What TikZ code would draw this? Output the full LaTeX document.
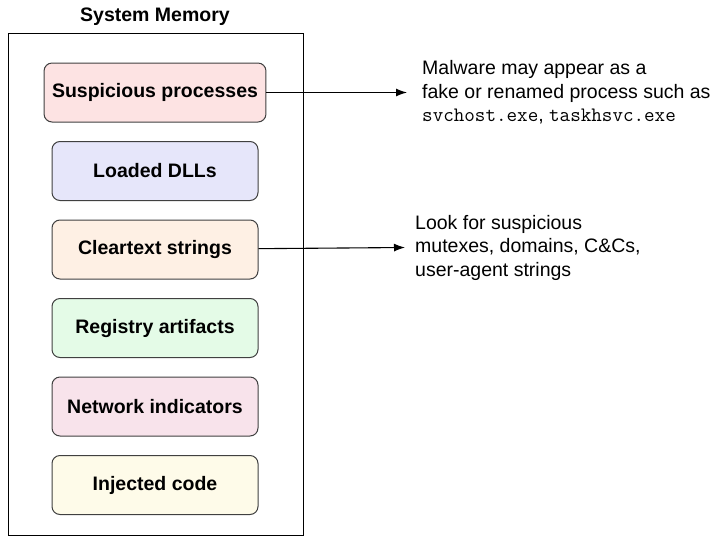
\documentclass[tikz,border=0pt]{standalone}
\usepackage{fontspec}
\setmainfont{Liberation Sans}
\usetikzlibrary{positioning,arrows.meta}
\definecolor{procfill}{HTML}{FDE3E3}
\definecolor{dllfill}{HTML}{E6E6FA}
\definecolor{strfill}{HTML}{FEF0E4}
\definecolor{regfill}{HTML}{E4FBE7}
\definecolor{netfill}{HTML}{F8E3EB}
\definecolor{injfill}{HTML}{FEFBE9}
\tikzset{
    membox/.style={draw=black!75, line width=1pt, rounded corners=8pt,
        minimum width=206pt, minimum height=59pt, inner xsep=8pt,
        font=\bfseries\fontsize{19.5}{23.5}\selectfont},
    note/.style={align=left, inner sep=0pt, font=\fontsize{19.5}{23.5}\selectfont},
    pointer/.style={-{Latex[length=11pt,width=8pt]}, line width=1.1pt}
}
\newcommand{\exename}[1]{{\fontsize{20.5}{23.5}\selectfont\ttfamily #1}}
\begin{document}
\begin{tikzpicture}[x=1pt,y=-1pt]
    \useasboundingbox (0,0) rectangle (715,536);
    \draw[line width=1pt] (8,33) rectangle (303,535);
    \node[font=\bfseries\fontsize{19.5}{23.5}\selectfont] (title) at (155,17) {System Memory};
    % memory contents
    \node[membox, fill=procfill] (procs) at (155,92.5) {Suspicious processes};
    \node[membox, fill=dllfill, below=18.5pt of procs] (dlls) {Loaded DLLs};
    \node[membox, fill=strfill, below=18.5pt of dlls] (strs) {Cleartext strings};
    \node[membox, fill=regfill, below=18.5pt of strs] (regs) {Registry artifacts};
    \node[membox, fill=netfill, below=18.5pt of regs] (nets) {Network indicators};
    \node[membox, fill=injfill, below=18.5pt of nets] (injs) {Injected code};
    % notes
    \coordinate (tip1) at (407,92.5);
    \coordinate (tip2) at (405,247.5);
    \node[note, anchor=west] (note1) at (422,92.5) {Malware may appear as a\\
        fake or renamed process such as\\ \exename{svchost.exe}, \exename{taskhsvc.exe}};
    \node[note, anchor=west] (note2) at (415,247.5) {Look for suspicious\\
        mutexes, domains, C\&Cs,\\ user-agent strings};
    \draw[pointer] (procs) -- (tip1);
    \draw[pointer] (strs) -- (tip2);
\end{tikzpicture}
\end{document}
